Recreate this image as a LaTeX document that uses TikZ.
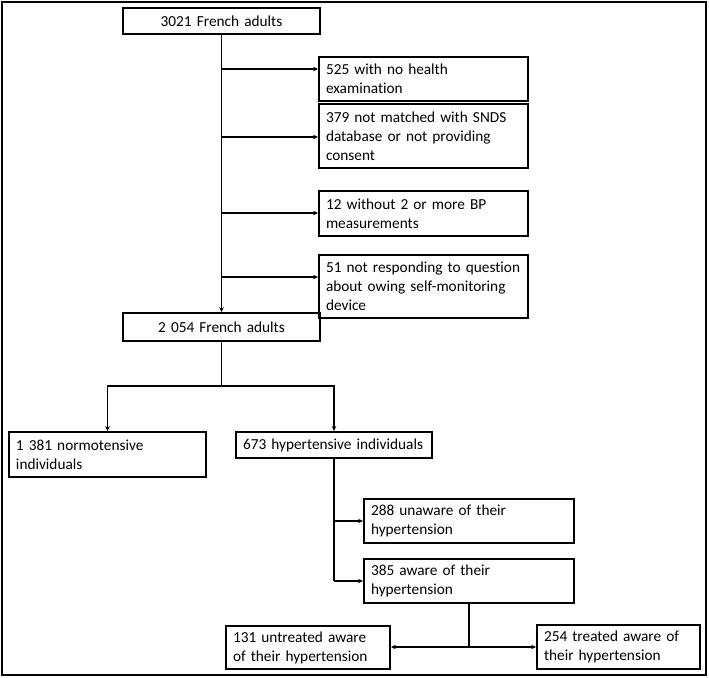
\documentclass[tikz,border=0pt]{standalone}
\usepackage{fontspec}
\setmainfont{Carlito}[Ligatures=NoCommon]
\usetikzlibrary{arrows.meta}
\newcommand\flowbx[7]{%
  \pgfmathsetmacro\fbw{#4-#2}%
  \pgfmathsetmacro\fbh{#5-#3}%
  \pgfmathsetmacro\fbt{#4-#2-14}%
  \node[flowbox,align=#6,minimum width=\fbw pt,minimum height=\fbh pt,text width=\fbt pt]
    (#1) at ({(#2+#4)/2},{(#3+#5)/2}) {#7};}
\newcommand\ml[1]{\mbox{#1}}
\begin{document}
\begin{tikzpicture}[x=1pt,y=-1pt,
  flowbox/.style={draw,line width=1.9pt,inner xsep=7pt,inner ysep=0pt,
    font=\fontsize{15.3}{19}\selectfont},
  arr/.style={line width=1.7pt,-{Stealth[length=5pt,width=4.5pt]}},
  ln/.style={line width=1.7pt}]
\useasboundingbox (0,0) rectangle (709,677);
\draw[line width=2.5pt] (2,2) rectangle (706,675);

\flowbx{top}{123}{8}{320}{34}{center}{\ml{3021 French adults}}
\flowbx{b525}{319}{57}{528}{101}{left}{\ml{525 with no health}\\\ml{examination}}
\flowbx{b379}{319}{104}{528}{168}{left}{\ml{379 not matched with SNDS}\\\ml{database or not providing}\\\ml{consent}}
\flowbx{b12}{319}{191}{528}{236}{left}{\ml{12 without 2 or more BP}\\\ml{measurements}}
\flowbx{b51}{319}{255}{528}{318}{left}{\ml{51 not responding to question}\\\ml{about owing self-monitoring}\\\ml{device}}
\flowbx{n2054}{123}{313}{320}{341}{center}{\ml{2 054 French adults}}
\flowbx{n1381}{9}{432}{206}{477}{left}{\ml{1 381 normotensive}\\\ml{individuals}}
\flowbx{n673}{236}{432}{432}{458}{left}{\ml{673 hypertensive individuals}}
\flowbx{b288}{364}{499}{574}{543}{left}{\ml{288 unaware of their}\\\ml{hypertension}}
\flowbx{b385}{364}{559}{574}{603}{left}{\ml{385 aware of their}\\\ml{hypertension}}
\flowbx{b131}{226}{626}{390}{669}{left}{\ml{131 untreated aware}\\\ml{of their hypertension}}
\flowbx{b254}{537}{625}{700}{669}{left}{\ml{254 treated aware of}\\\ml{their hypertension}}

% exclusions trunk
\draw[arr] (top.south) -- (n2054.north);
\coordinate (j1) at (221.5,69);
\coordinate (j2) at (221.5,137);
\coordinate (j3) at (221.5,213);
\coordinate (j4) at (221.5,277);
\draw[arr] (j1) -- (j1 -| b525.west);
\draw[arr] (j2) -- (j2 -| b379.west);
\draw[arr] (j3) -- (j3 -| b12.west);
\draw[arr] (j4) -- (j4 -| b51.west);

% split
\coordinate (s1) at (221.5,386);
\draw[ln] (n2054.south) -- (s1);
\draw[arr] (s1) -| (n1381.north);
\draw[arr] (s1) -| (n673.north);

% hypertensive
\coordinate (k1) at (334,521);
\coordinate (k2) at (334,581);
\draw[ln] (n673.south) -- (k2);
\draw[arr] (k1) -- (k1 -| b288.west);
\draw[arr] (k2) -- (k2 -| b385.west);

% aware
\coordinate (m) at (469,647);
\draw[ln] (b385.south) -- (m);
\draw[arr] (m) -- (m -| b131.east);
\draw[arr] (m) -- (m -| b254.west);
\end{tikzpicture}
\end{document}
